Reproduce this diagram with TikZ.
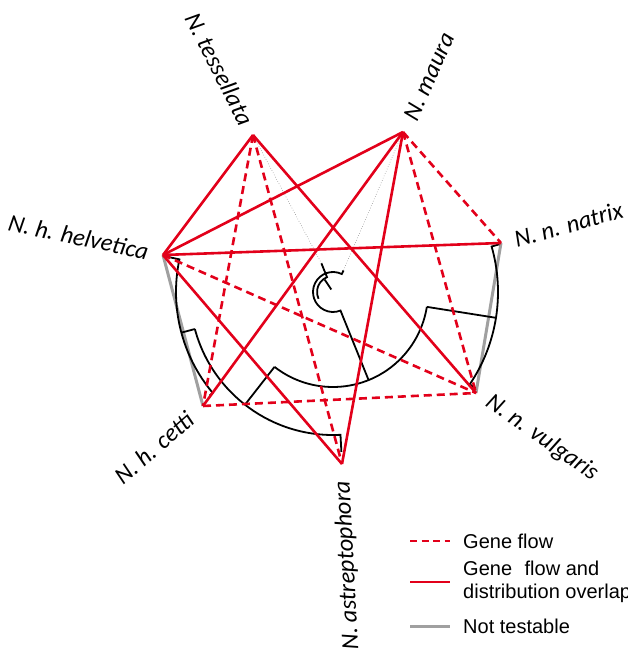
\documentclass[tikz,border=0pt]{standalone}
\usepackage{fontspec}
\setmainfont{Liberation Sans}
\newfontfamily\taxfont{Carlito}
\usepackage{tikz}
\usetikzlibrary{calc,positioning}

\definecolor{flowred}{RGB}{226,0,26}
\definecolor{nogray}{RGB}{160,160,160}

\begin{document}
\begin{tikzpicture}[x=1pt,y=1pt,
  flow/.style={flowred,line width=2.6pt,dash pattern=on 8pt off 5pt},
  overlap/.style={flowred,line width=2.6pt},
  untested/.style={nogray,line width=3pt},
  tree/.style={black,line width=1.8pt},
  guide/.style={black!60,dotted,line width=0.5pt},
  taxon/.style={font=\taxfont\itshape\fontsize{24.5}{28}\selectfont,inner sep=0pt},
  legtext/.style={font=\fontsize{20}{23}\selectfont,anchor=west,inner sep=0pt,align=left}]

\useasboundingbox (0,0) rectangle (628,-650);

% centre of the fan tree and the seven taxa
\coordinate (O) at (333,-292);
\coordinate (tess) at (253,-135);
\coordinate (maura) at (403,-132);
\coordinate (natrix) at (501,-243);
\coordinate (helv) at (163,-255);
\coordinate (cetti) at (203,-406);
\coordinate (astre) at (342,-464);
\coordinate (vulg) at (476,-393);
\coordinate (tesstip) at ($(O)+(112:31pt)$);
\coordinate (mauratip) at ($(O)+(64:24pt)$);

% not testable
\draw[untested] (helv) -- (cetti);
\draw[untested] (natrix) -- (vulg);

% tree
\draw[tree] (mauratip) -- ($(O)+(64:20pt)$) arc[start angle=64,end angle=292,radius=20pt] -- ($(O)+(292:95pt)$);% root arc
\draw[tree] (tesstip) -- ($(O)+(112:16pt)$) arc[start angle=112,end angle=205,radius=16pt];% inner arc
\draw[tree] ($(O)+(124:3pt)$) -- ($(O)+(124:15pt)$);
\draw[tree] ($(O)+(232:95pt)$) arc[start angle=232,end angle=351,radius=95pt];
\draw[tree] ($(O)+(351:95pt)$) -- ($(O)+(351:165pt)$);
\draw[tree] ($(O)+(376:173pt)$) -- ($(O)+(376:165pt)$) arc[start angle=376,end angle=326,radius=165pt] -- ($(O)+(326:172pt)$);% natrix + vulgaris
\draw[tree] ($(O)+(232:95pt)$) -- ($(O)+(232:143pt)$);
\draw[tree] ($(O)+(195:143pt)$) arc[start angle=195,end angle=273,radius=143pt] -- ($(O)+(273:160pt)$);% astreptophora
\draw[tree] ($(O)+(195:143pt)$) -- ($(O)+(195:157pt)$);
\draw[tree] ($(O)+(168:172pt)$) -- ($(O)+(168:157pt)$) arc[start angle=168,end angle=220,radius=157pt] -- ($(O)+(220:161pt)$);% helvetica + cetti

\draw[guide] (tess) -- (tesstip);
\draw[guide] (maura) -- (mauratip);

% gene flow
\draw[flow] (helv) -- (vulg);
\draw[flow] (tess) -- (cetti);
\draw[flow] (tess) -- (astre);
\draw[flow] (maura) -- (natrix);
\draw[flow] (maura) -- (vulg);
\draw[flow] (cetti) -- (vulg);

% gene flow and distribution overlap
\draw[overlap] (helv) -- (tess);
\draw[overlap] (helv) -- (maura);
\draw[overlap] (helv) -- (natrix);
\draw[overlap] (helv) -- (astre);
\draw[overlap] (tess) -- (vulg);
\draw[overlap] (maura) -- (cetti);
\draw[overlap] (maura) -- (astre);

% labels
\node[taxon,anchor=east,rotate=-63] (tesslabel) at ($(O)+(117:189pt)$) {N. tessellata};
\node[taxon,anchor=west,rotate=66] (mauralabel) at ($(O)+(66:189pt)$) {N. maura};
\node[taxon,anchor=west,rotate=16] (natrixlabel) at ($(O)+(16:189pt)$) {N. n. natrix};
\node[taxon,anchor=east,rotate=-12] (helvlabel) at ($(O)+(167.7:189pt)$) {N. h. helvetica};
\node[taxon,anchor=east,rotate=41] (cettilabel) at ($(O)+(221:189pt)$) {N. h. cetti};
\node[taxon,anchor=east,rotate=93] (astrelabel) at ($(O)+(273:189pt)$) {N. astreptophora};
\node[taxon,anchor=west,rotate=-35] (vulglabel) at ($(O)+(325:189pt)$) {N. n. vulgaris};

% legend
\node[legtext] (legflow) at (463,-541) {Gene flow};
\node[legtext] (legoverlap) at (463,-582) {Gene\hspace{0.35em} flow and\\distribution overlap};
\node[legtext] (legnot) at (463,-626) {Not testable};
\draw[flow,dash pattern=on 7pt off 4.5pt] ([xshift=-53pt]legflow.west) -- ++(40,0);
\draw[overlap] ([xshift=-53pt]legoverlap.west) -- ++(40,0);
\draw[untested] ([xshift=-53pt]legnot.west) -- ++(40,0);

\end{tikzpicture}
\end{document}
